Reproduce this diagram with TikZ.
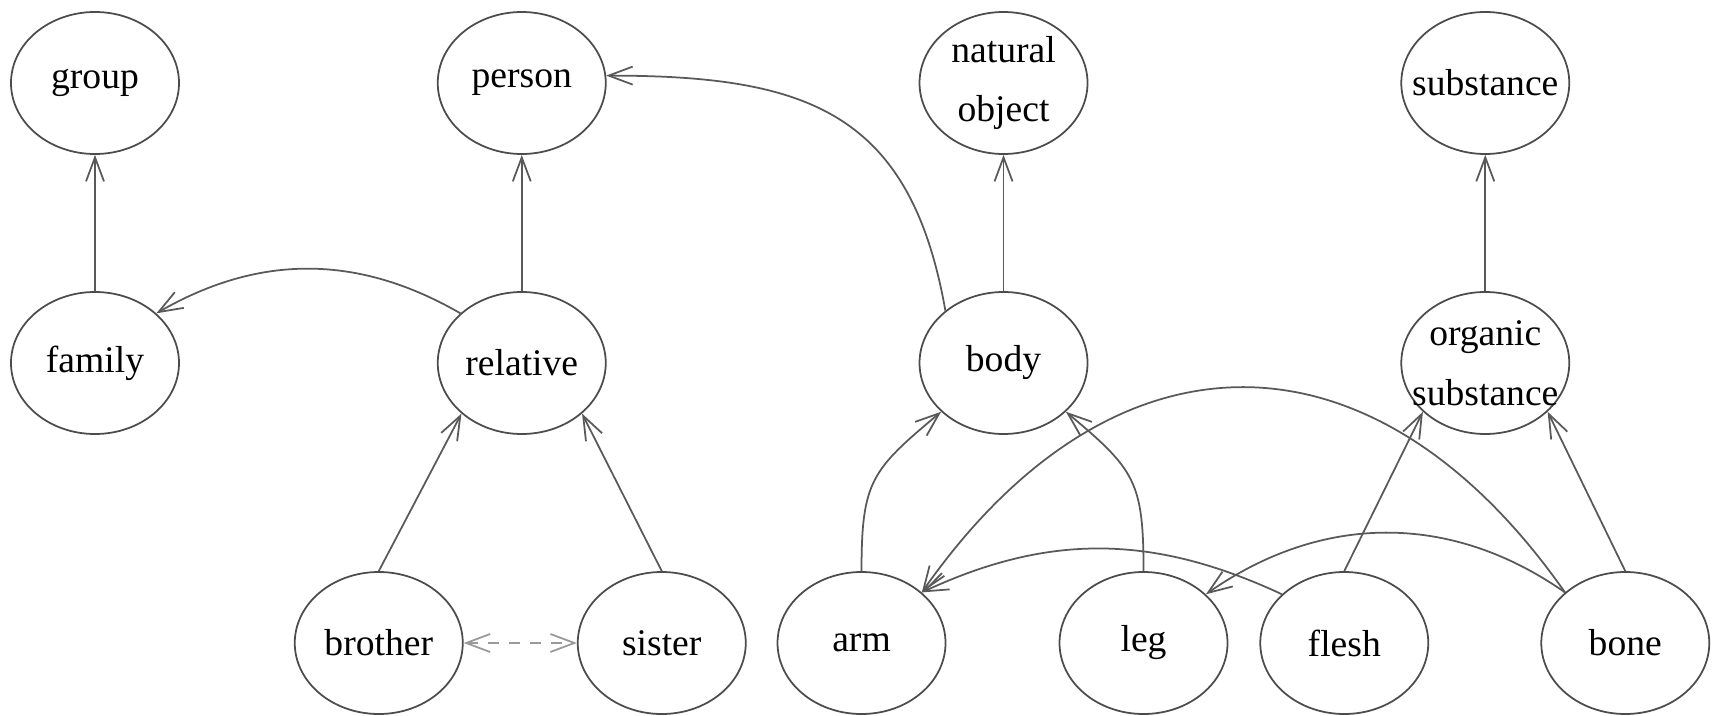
\documentclass[tikz,border=0pt]{standalone}
\usepackage{fontspec}
\setmainfont{Liberation Serif}
\usepackage{tikz}
\usetikzlibrary{shapes.geometric, arrows.meta, positioning}

\begin{document}
\begin{tikzpicture}[node distance=2.8cm]
\tikzstyle{concept} = [ellipse, draw=black!70, line width=0.5pt, minimum width=1.68cm, minimum height=1.42cm, inner xsep=-2mm, inner ysep=0pt, align=center, font=\fontsize{10.7}{17}\selectfont]
\tikzstyle{arrow} = [draw=black!65, line width=0.5pt, ->, >={Straight Barb[length=2.4mm, width=1.8mm]}]
\tikzstyle{sibling} = [arrow, <->, dashed, draw=black!40]

\useasboundingbox (0,0) rectangle (17.12,-7.16);

% Top row
\node (group) [concept] at (0.95,-0.83) {group};
\node (person) [concept, right=2.57cm of group] {person};
\node (natobj) [concept, right=3.12cm of person] {natural\\object};
\node (substance) [concept, right=3.12cm of natobj] {substance};

% Middle row
\node (family) [concept, below of=group] {family};
\node (relative) [concept, below of=person] {relative};
\node (body) [concept, below of=natobj] {body};
\node (organic) [concept, below of=substance] {organic\\substance};

% Bottom row
\node (brother) [concept, below of=relative, xshift=-1.43cm] {brother};
\node (sister) [concept, below of=relative, xshift=1.40cm] {sister};
\node (arm) [concept, below of=body, xshift=-1.42cm] {arm};
\node (leg) [concept, below of=body, xshift=1.40cm] {leg};
\node (flesh) [concept, below of=organic, xshift=-1.41cm] {flesh};
\node (bone) [concept, below of=organic, xshift=1.40cm] {bone};

% Connections
\draw [arrow] (family) -- (group);
\draw [arrow] (relative) -- (person);
\draw [arrow] (body) -- (natobj);
\draw [arrow] (organic) -- (substance);
\draw [arrow] (relative.141) to[out=150, in=30] (family.39);
\draw [arrow] (body.138) to[out=100, in=0, looseness=1.25] (person.5);
\draw [arrow] (brother.north) -- (relative.220);
\draw [arrow] (sister.north) -- (relative.320);
\draw [sibling] (brother) -- (sister);
\draw [arrow] (arm.north) to[out=90, in=220, looseness=1.3] (body.218);
\draw [arrow] (leg.north) to[out=90, in=320, looseness=1.3] (body.322);
\draw [arrow] (bone.140) to[out=125, in=55, looseness=1.33] (arm.40);
\draw [arrow] (flesh.142) to[out=155, in=25] (arm.40);
\draw [arrow] (bone.140) to[out=145, in=35] (leg.38);
\draw [arrow] (flesh.north) -- (organic.218);
\draw [arrow] (bone.north) -- (organic.322);

\end{tikzpicture}
\end{document}
